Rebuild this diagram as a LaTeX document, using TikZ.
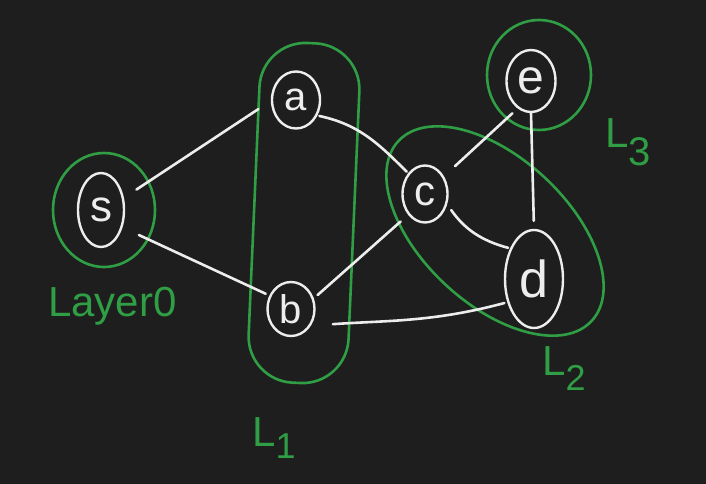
\documentclass[tikz,border=0pt]{standalone}
\usepackage{fontspec}
\setmainfont{Liberation Sans}
\usetikzlibrary{shapes.geometric}
\definecolor{board}{HTML}{1E1E1E}
\definecolor{chalk}{HTML}{EDEDED}
\definecolor{marker}{HTML}{2F9E44}
\newcommand{\fsz}[1]{\fontsize{#1}{#1}\selectfont}
\begin{document}
\begin{tikzpicture}[x=1pt,y=-1pt,
  vtx/.style={draw=chalk, line width=2.4pt, ellipse, inner sep=0pt, text=chalk},
  link/.style={draw=chalk, line width=2.6pt, line cap=round},
  layer/.style={draw=marker, line width=2.6pt, inner sep=0pt},
  tag/.style={text=marker, font=\fsz{42}, inner sep=0pt, anchor=base west}]
\fill[board] (0,0) rectangle (706,484);
\useasboundingbox (0,0) rectangle (706,484);

% layer outlines
\node[layer, ellipse, minimum width=102pt, minimum height=114pt] (l0) at (104,210) {};
\node[layer, rectangle, rounded corners=46pt, minimum width=100pt, minimum height=340pt, rotate=-2.5] (l1) at (304,213) {};
\node[layer, ellipse, minimum width=264pt, minimum height=146pt, rotate=-43] (l2) at (495,231) {};
\node[layer, ellipse, minimum width=104pt, minimum height=110pt] (l3) at (539,75) {};

% vertices
\node[vtx, font=\fsz{44}, minimum width=46pt, minimum height=74pt] (s) at (101,210) {s};
\node[vtx, font=\fsz{40}, minimum width=48pt, minimum height=57pt] (a) at (296,100) {a};
\node[vtx, font=\fsz{40}, minimum width=47pt, minimum height=54pt] (b) at (291,309) {b};
\node[vtx, font=\fsz{42}, minimum width=45pt, minimum height=57pt] (c) at (425,194) {c};
\node[vtx, font=\fsz{52}, minimum width=58pt, minimum height=98pt] (d) at (534,279) {d};
\node[vtx, font=\fsz{48}, minimum width=49pt, minimum height=62pt] (e) at (531,81) {e};

% edges
\draw[link, shorten <=15pt, shorten >=15pt] (s.28) -- (a.182);
\draw[link, shorten <=18pt, shorten >=4pt] (s.-39) -- (b.148);
\draw[link, shorten <=2pt, shorten >=2pt] (a.-36) to[out=-12, in=135] (c.129);
\draw[link, shorten <=5pt, shorten >=10pt] (b.25) -- (c.-129);
\draw[link, shorten <=22pt, shorten >=3pt] (b.-40) to[out=4, in=-165] (d.-139);
\draw[link, shorten <=15pt, shorten >=7pt] (c.43) -- (e.-116);
\draw[link, shorten <=7pt, shorten >=2pt] (c.-25) to[out=-55, in=165] (d.128);
\draw[link, shorten >=8pt] (e.south) -- (d.north);

% layer labels
\node[tag] (t0) at (48,316) {Layer0};
\node[tag] (t1) at (252,446) {L\raisebox{-12pt}{\fsz{36}1}};
\node[tag] (t2) at (542,375) {L\raisebox{-15pt}{\fsz{36}2}};
\node[tag] (t3) at (605,147) {L\raisebox{-18pt}{\fsz{40}3}};
\end{tikzpicture}
\end{document}
